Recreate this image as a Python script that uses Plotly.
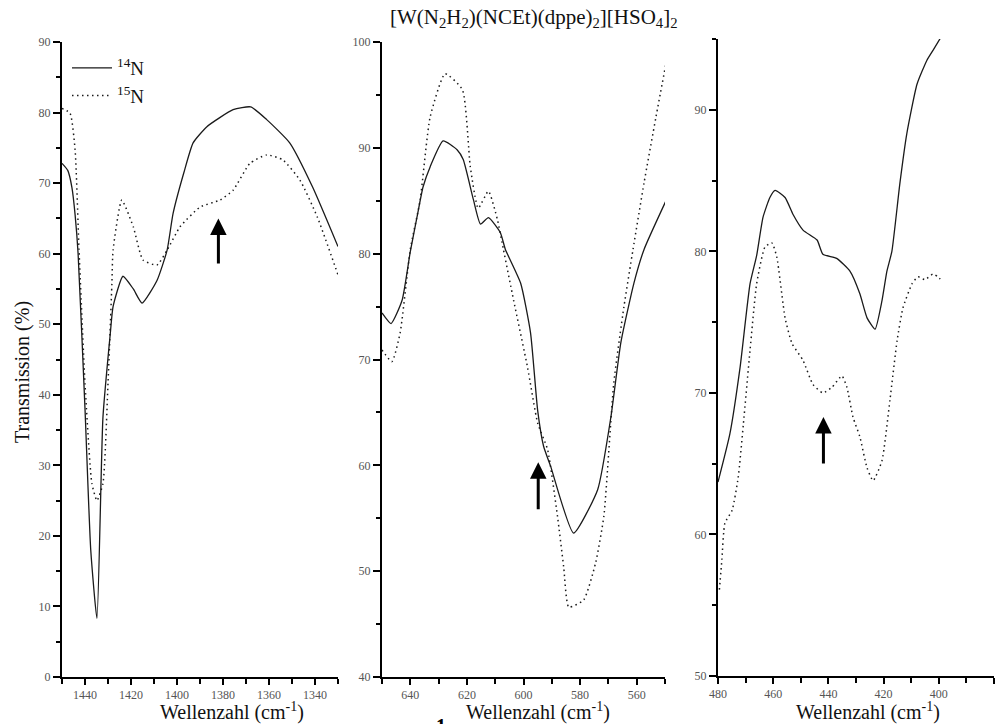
import plotly.graph_objects as go

# --- panel 1 (1450-1330 cm-1) ---
p1_n14_x = [1450, 1447.5, 1445.7, 1444.3, 1443, 1440, 1437.5, 1434.8, 1432.2, 1429, 1427.8, 1423.5,
            1419, 1415.2, 1408.7, 1404.3, 1401.7, 1397, 1393, 1387, 1375.6, 1368, 1361, 1351, 1341, 1330]
p1_n14_y = [72.8, 71.8, 69.4, 65.5, 60.0, 38.0, 18.0, 8.3, 36.8, 48.7, 52.5, 56.8,
            55.0, 53.0, 56.2, 60.5, 65.7, 71.5, 75.7, 78.0, 80.4, 80.8, 79.0, 75.7, 69.4, 61.0]

p1_n15_x = [1450, 1446.5, 1444.3, 1442.6, 1440, 1437, 1434.8, 1432.2, 1430, 1428.3, 1427.8, 1424,
            1419, 1414.8, 1408.7, 1404.3, 1398.7, 1390, 1381.3, 1375.6, 1368.3, 1361, 1354, 1346.5,
            1339, 1330]
p1_n15_y = [80.6, 79.9, 74.7, 60.5, 41.6, 27.4, 25.0, 27.4, 41.6, 55.8, 60.5, 67.6,
            63.8, 59.1, 58.4, 60.5, 63.8, 66.6, 67.6, 69.0, 72.8, 74.0, 73.3, 70.4,
            65.2, 57.0]

# --- panel 2 (650-550 cm-1) ---
p2_n14_x = [650, 646.8, 642.9, 640, 637.6, 635.5, 633, 628.4, 623.4, 621.3, 617.7, 615.2, 612.4,
            608.2, 606.4, 601, 597.5, 595, 592.9, 590.4, 582.3, 573.8, 569.1, 565.6, 561, 557.4,
            549.3]
p2_n14_y = [74.4, 73.4, 75.6, 80.2, 83.5, 86.3, 88.2, 90.65, 89.8, 88.9, 85.1, 82.8, 83.4,
            82.0, 80.4, 77.2, 72.5, 65.2, 61.8, 59.9, 53.6, 57.7, 64.6, 71.6, 77.2, 80.4,
            85.2]

p2_n15_x = [650, 646.5, 643.6, 640, 636.5, 633, 627.7, 621.6, 618.8, 616, 612.4, 609.2, 607.1,
            603.5, 598.6, 595, 591.5, 588, 585.8, 584, 578.7, 574.5, 571.6, 568.1, 564.5, 561.3,
            557.4, 553.2, 549]
p2_n15_y = [70.9, 69.8, 72.5, 80.4, 85.1, 92.9, 97.0, 95.5, 88.2, 84.3, 85.9, 83.2, 80.4,
            75.6, 69.3, 64.0, 61.5, 55.2, 50.4, 46.6, 47.3, 50.8, 55.2, 67.8, 75.0, 80.4,
            86.7, 92.9, 98.9]

# --- panel 3 (480-380 cm-1) ---
p3_n14_x = [480, 475.7, 472, 468.4, 466, 463.7, 461.2, 459.3, 455.7, 452.8, 449.2, 444.1, 442,
            437, 432.2, 428.6, 426, 423.1, 420.6, 418.8, 417, 414.1, 411.6, 407.9, 404.3, 402.1,
            399]
p3_n14_y = [63.7, 67.1, 71.8, 77.7, 79.7, 82.4, 83.8, 84.3, 83.8, 82.6, 81.5, 80.8, 79.8,
            79.5, 78.6, 77.0, 75.3, 74.5, 76.5, 78.6, 80.0, 84.8, 88.3, 91.8, 93.5, 94.2,
            95.2]

p3_n15_x = [479.5, 478.6, 477.5, 474.9, 472.7, 470.8, 468.4, 466, 463, 460.5, 458.7, 455.7, 453.2,
            449.2, 445.6, 442, 438.7, 435.1, 433.3, 431.1, 428.6, 426, 423.8, 420.6, 417.7, 415.1,
            413, 409.7, 407.5, 405, 402.1, 400.3, 398.8]
p3_n15_y = [56.1, 58.2, 60.8, 61.7, 64.0, 67.8, 73.0, 77.7, 80.3, 80.6, 79.6, 75.3, 73.5,
            72.3, 70.6, 70.0, 70.4, 71.2, 70.4, 68.3, 66.9, 64.7, 63.8, 65.2, 69.5, 73.7,
            76.0, 77.7, 78.2, 78.0, 78.4, 78.2, 77.9]

# arrows: (x, tail y, head y)
arrows = [(1382, 58.4, 65.0), (594.8, 55.7, 60.3), (441.8, 64.9, 68.3)]

SERIF = "Liberation Serif, Times New Roman, serif"

fig = go.Figure()

panels = [
    (p1_n14_x, p1_n14_y, p1_n15_x, p1_n15_y, "x", "y"),
    (p2_n14_x, p2_n14_y, p2_n15_x, p2_n15_y, "x2", "y2"),
    (p3_n14_x, p3_n14_y, p3_n15_x, p3_n15_y, "x3", "y3"),
]
for i, (ax_, ay_, bx_, by_, xa, ya) in enumerate(panels):
    fig.add_trace(go.Scatter(
        x=ax_, y=ay_, mode="lines", xaxis=xa, yaxis=ya,
        line=dict(color="#1a1a1a", width=1.3, shape="spline", smoothing=0.5),
        name="<sup>14</sup>N", showlegend=(i == 0),
    ))
    fig.add_trace(go.Scatter(
        x=bx_, y=by_, mode="lines", xaxis=xa, yaxis=ya,
        line=dict(color="#1a1a1a", width=1.5, dash="1.5px,3.5px", shape="spline", smoothing=0.5),
        name="<sup>15</sup>N", showlegend=(i == 0),
    ))

tick_font = dict(family=SERIF, size=12, color="#555555")


def xaxis(domain, rng, anchor):
    return dict(
        domain=domain, range=rng, anchor=anchor, dtick=20, tick0=0, automargin=False,
        showgrid=False, zeroline=False, showline=True, linecolor="black", linewidth=2,
        ticks="outside", ticklen=6, tickwidth=1.5, tickcolor="black", tickfont=tick_font,
        minor=dict(dtick=10, tick0=0, ticks="outside", ticklen=5, tickwidth=1.5, tickcolor="black"),
    )


def yaxis(domain, rng, anchor):
    return dict(
        domain=domain, range=rng, anchor=anchor, dtick=10, tick0=0, automargin=False,
        showgrid=False, zeroline=False, showline=True, linecolor="black", linewidth=2,
        ticks="outside", ticklen=7, tickwidth=1.5, tickcolor="black", tickfont=tick_font,
        minor=dict(dtick=5, tick0=0, ticks="outside", ticklen=4, tickwidth=1.5, tickcolor="black"),
    )


annotations = []
for (x0, y_tail, y_head), xa, ya in zip(arrows, ["x", "x2", "x3"], ["y", "y2", "y3"]):
    annotations.append(dict(
        x=x0, y=y_head, ax=x0, ay=y_tail, xref=xa, yref=ya, axref=xa, ayref=ya,
        text="", showarrow=True, arrowhead=2, arrowsize=1.1, arrowwidth=3, arrowcolor="black",
    ))

xlabel = "Wellenzahl (cm<sup>-1</sup>)"
for xc in [232 / 1001, 538 / 1001, 868 / 1001]:
    annotations.append(dict(
        x=xc, y=1 - 711 / 724, xref="paper", yref="paper", text=xlabel, showarrow=False,
        font=dict(family=SERIF, size=20, color="#111111"), xanchor="center", yanchor="middle",
    ))
annotations.append(dict(
    x=22 / 1001, y=1 - 372 / 724, xref="paper", yref="paper", text="Transmission (%)",
    showarrow=False, textangle=-90, font=dict(family=SERIF, size=20, color="#111111"),
    xanchor="center", yanchor="middle",
))
annotations.append(dict(
    x=534 / 1001, y=1 - 18 / 724, xref="paper", yref="paper",
    text="[W(N<sub>2</sub>H<sub>2</sub>)(NCEt)(dppe)<sub>2</sub>][HSO<sub>4</sub>]<sub>2</sub>",
    showarrow=False, font=dict(family=SERIF, size=21, color="#111111"),
    xanchor="center", yanchor="middle",
))
annotations.append(dict(
    x=441 / 1001, y=1 - 713 / 724, xref="paper", yref="paper", text="<b>1</b>",
    showarrow=False, font=dict(family=SERIF, size=20, color="black"),
    xanchor="center", yanchor="top",
))

ydom1 = [1 - 677 / 724, 1 - 42 / 724]
ydom3 = [1 - 676 / 724, 1 - 39 / 724]

fig.update_layout(
    width=1001, height=724,
    margin=dict(l=0, r=0, t=0, b=0, autoexpand=False),
    paper_bgcolor="white", plot_bgcolor="white",
    xaxis=xaxis([62 / 1001, 338 / 1001], [1450, 1330], "y"),
    yaxis=yaxis(ydom1, [0, 90], "x"),
    xaxis2=xaxis([382 / 1001, 665 / 1001], [650, 550], "y2"),
    yaxis2=yaxis(ydom1, [40, 100], "x2"),
    xaxis3=xaxis([718 / 1001, 994 / 1001], [480, 380], "y3"),
    yaxis3=yaxis(ydom3, [50, 95], "x3"),
    showlegend=True,
    legend=dict(
        x=67 / 1001, y=1 - 49 / 724, xanchor="left", yanchor="top",
        font=dict(family=SERIF, size=19, color="#111111"),
        bgcolor="rgba(0,0,0,0)", itemwidth=40, tracegroupgap=0,
    ),
    annotations=annotations,
)

# page body has a default margin; drop it so the figure sits at the window corner
fig.write_html(
    "out.html",
    config={"displayModeBar": False},
    post_script="document.body.style.margin='0';",
)
